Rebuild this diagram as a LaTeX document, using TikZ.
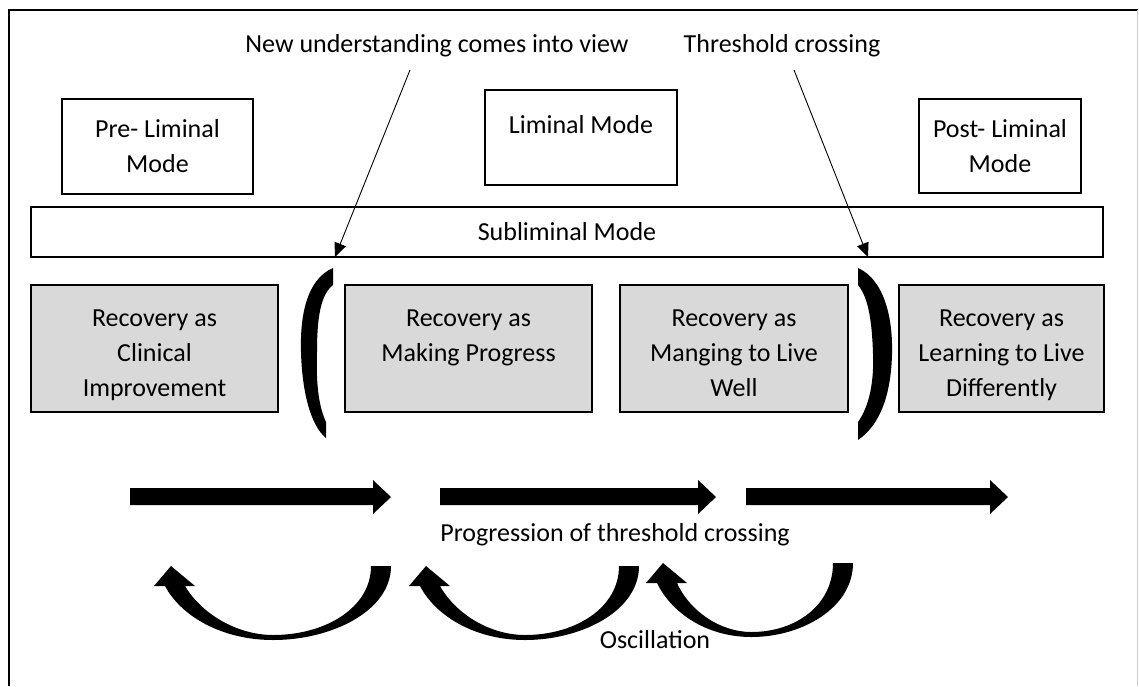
\documentclass[tikz,border=0pt]{standalone}
\usepackage{fontspec}
\setmainfont{Carlito}
\usetikzlibrary{arrows.meta}
\definecolor{boxgray}{RGB}{217,217,217}
\newcommand\oscarrow[3]{%
  \fill[shift={(#1,#2)}] (#3,0) .. controls (#3,45) and ({0.73*#3},74) .. ({0.465*#3},74)
    .. controls ({0.23*#3},74) and ({0.045*#3},50) .. (-6,20) -- (-17,20) -- (0,0) -- (24,20) -- (14,20)
    .. controls ({0.14*#3},48) and ({0.3*#3},69) .. ({0.465*#3},69)
    .. controls ({0.7*#3},69) and ({#3-20},42) .. ({#3-20},0) -- cycle;}
\begin{document}
\begin{tikzpicture}[x=1pt,y=-1pt,
  every node/.style={font=\fontsize{26}{35}\selectfont, inner sep=0pt, outer sep=0pt},
  modebox/.style={draw, line width=1.8pt},
  recbox/.style={draw, line width=1.5pt, fill=boxgray, minimum height=127pt},
  txt/.style={align=center},
  pointer/.style={line width=0.9pt, -{Triangle[length=14pt,width=12pt]}}]
\path[use as bounding box] (0,0) rectangle (1139,686);
% frame
\draw[line width=1.5pt] (9,686) -- (9,10) -- (1138,10);
\draw[black!20, line width=1pt] (1137,10) -- (1137,686);
% mode boxes
\node[modebox, txt, minimum width=191pt, minimum height=95pt] (pre) at (157.5,146.5) {Pre- Liminal\\Mode};
\node[modebox, minimum width=192pt, minimum height=95pt] (lim) at (581,137.5) {};
\node[anchor=base] (limtxt) at (581,133.5) {Liminal Mode};
\node[modebox, txt, minimum width=162pt, minimum height=94pt] (post) at (1000,146) {Post- Liminal\\Mode};
% subliminal
\node[modebox, minimum width=1072pt, minimum height=50pt] (sub) at (567,232) {};
\node[anchor=base] (subtxt) at (567,240.5) {Subliminal Mode};
% recovery boxes
\node[recbox, minimum width=247pt] (b1) at (154.5,348.5) {};
\node[recbox, minimum width=247pt] (b2) at (468.5,348.5) {};
\node[recbox, minimum width=228pt] (b3) at (734,348.5) {};
\node[recbox, minimum width=205pt] (b4) at (1001.5,348.5) {};
\node[txt, anchor=north] (t1) at (154.5,309.5) {Recovery as\\Clinical\\Improvement};
\node[txt, anchor=north] (t2) at (468.5,309.5) {Recovery as\\Making Progress};
\node[txt, anchor=north] (t3) at (734,309.5) {Recovery as\\Manging to Live\\Well};
\node[txt, anchor=north] (t4) at (1001.5,309.5) {Recovery as\\Learning to Live\\Differently};
% brackets
\fill (333,268) .. controls (305,280) and (300,320) .. (301,352) .. controls (302,390) and (310,425) .. (326,438)
  -- (326,422) .. controls (318,405) and (316,380) .. (317,352) .. controls (317,320) and (320,295) .. (333,285) -- cycle;
\fill (858,268) .. controls (885,280) and (893,320) .. (892,354) .. controls (891,395) and (880,425) .. (858,440)
  -- (858,422) .. controls (870,405) and (874,380) .. (873,354) .. controls (872,320) and (868,297) .. (858,285) -- cycle;
% top labels and pointers
\node[anchor=base] (nu) at (437,52) {New understanding comes into view};
\node[anchor=base] (tc) at (782,52) {Threshold crossing};
\coordinate (nus) at (410,70);
\coordinate (nue) at (335,257);
\coordinate (tcs) at (794,70);
\coordinate (tce) at (868,257);
\draw[pointer] (nus) -- (nue);
\draw[pointer] (tcs) -- (tce);
% progression arrows
\foreach \a/\b in {130/391, 440/716, 746/1008}{
  \fill (\a,488) -- ({\b-18},488) -- ({\b-18},480) -- (\b,497) -- ({\b-18},514) -- ({\b-18},505) -- (\a,505) -- cycle;
}
\node[anchor=base] (prog) at (615,541.5) {Progression of threshold crossing};
% oscillation arrows
\oscarrow{171}{566}{220}
\oscarrow{426}{566}{213}
\oscarrow{663}{563}{190}
\node[anchor=base] (osc) at (655,648.5) {Oscillation};
\end{tikzpicture}
\end{document}
